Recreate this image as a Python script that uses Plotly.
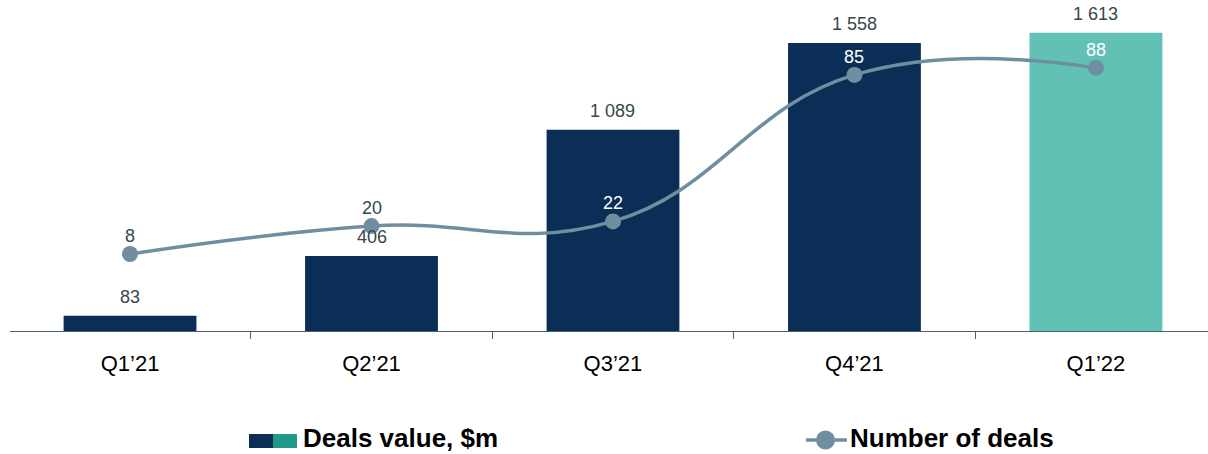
import plotly.graph_objects as go

categories = ["Q1’21", "Q2’21", "Q3’21", "Q4’21", "Q1’22"]
deals_value = [83, 406, 1089, 1558, 1613]
deals_count = [8, 20, 22, 85, 88]

NAVY = "#0b2e57"
TEAL = "#62c1b5"
LINE = "#6f8fa1"
LABEL = "#36474a"
FONT = "Liberation Sans, Arial, sans-serif"

bar_colors = [NAVY, NAVY, NAVY, NAVY, TEAL]
bar_text = [f"{v:,}".replace(",", " ") for v in deals_value]
count_text = [str(v) for v in deals_count]
count_text_colors = [LABEL, LABEL, "white", "white", "white"]

fig = go.Figure()
fig.add_trace(go.Bar(
    x=categories, y=deals_value, marker=dict(color=bar_colors, line=dict(width=0)),
    width=0.55, hoverinfo="skip", showlegend=False,
))
fig.add_trace(go.Scatter(
    x=categories, y=deals_count, yaxis="y2", mode="lines+markers",
    line=dict(color=LINE, width=3.5, shape="spline", smoothing=1.25),
    marker=dict(color=LINE, size=16),
    hoverinfo="skip", showlegend=False, cliponaxis=False,
))

W, H = 1208, 454
L, R, T, B = 10, 0, 0, 123
pw, ph = W - L - R, H - T - B

def px(x):
    return (x - L) / pw

def py(y):
    return (H - B - y) / ph

annotations = []
for c, v, t in zip(categories, deals_value, bar_text):
    annotations.append(dict(x=c, y=v, xref="x", yref="y", text=t, showarrow=False,
                            yanchor="middle", yshift=19,
                            font=dict(family=FONT, size=18, color=LABEL)))
for c, v, t, col in zip(categories, deals_count, count_text, count_text_colors):
    annotations.append(dict(x=c, y=v, xref="x", yref="y2", text=t, showarrow=False,
                            yanchor="middle", yshift=18,
                            font=dict(family=FONT, size=18, color=col)))

shapes = [
    dict(type="rect", xref="paper", yref="paper", x0=px(249), x1=px(273), y0=py(448), y1=py(434),
         fillcolor=NAVY, line=dict(width=0)),
    dict(type="rect", xref="paper", yref="paper", x0=px(273), x1=px(297), y0=py(448), y1=py(434),
         fillcolor="#1f9a8a", line=dict(width=0)),
    dict(type="line", xref="paper", yref="paper", x0=px(806), x1=px(847), y0=py(440), y1=py(440),
         line=dict(color=LINE, width=3.5)),
    dict(type="circle", xref="paper", yref="paper", x0=px(816), x1=px(835), y0=py(449.5), y1=py(430.5),
         fillcolor=LINE, line=dict(width=0)),
]
annotations += [
    dict(xref="paper", yref="paper", x=px(301), y=py(438.5), xanchor="left", yanchor="middle",
         text="<b>Deals value, $m</b>", showarrow=False, font=dict(family=FONT, size=26, color="black")),
    dict(xref="paper", yref="paper", x=px(848), y=py(438.5), xanchor="left", yanchor="middle",
         text="<b>Number of deals</b>", showarrow=False, font=dict(family=FONT, size=26, color="black")),
]

fig.update_layout(
    width=W, height=H, margin=dict(l=L, r=R, t=T, b=B),
    paper_bgcolor="white", plot_bgcolor="white",
    font=dict(family=FONT),
    xaxis=dict(type="category", showgrid=False, showline=True, linecolor="#4a6172", linewidth=1.2,
               ticks="outside", tickson="boundaries", ticklen=7, tickcolor="#4a6172",
               ticklabelstandoff=12,
               tickfont=dict(family=FONT, size=22, color="black"), range=[-0.497, 4.464]),
    yaxis=dict(range=[0, 1790], visible=False, showgrid=False, zeroline=False),
    yaxis2=dict(range=[-25.1, 117.2], overlaying="y", visible=False, showgrid=False, zeroline=False),
    shapes=shapes, annotations=annotations,
)

fig.write_html("out.html")
